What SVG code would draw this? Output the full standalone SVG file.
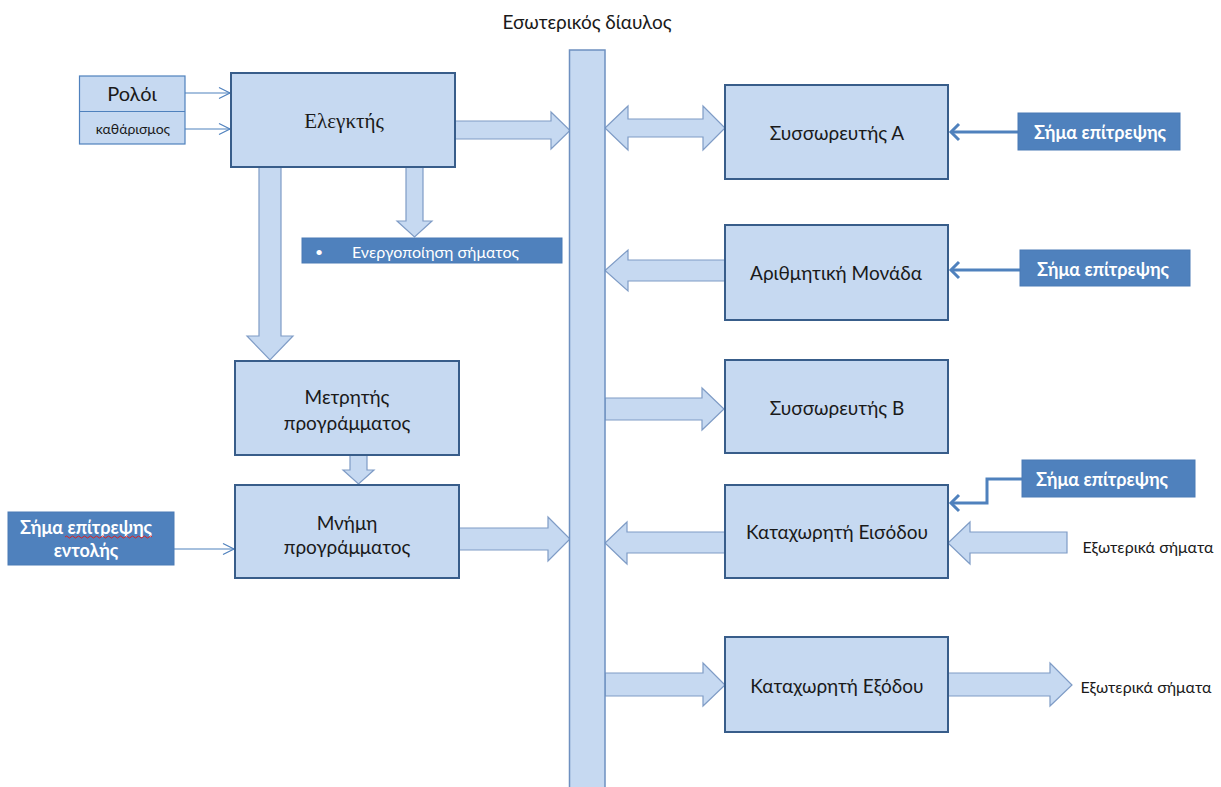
<svg xmlns="http://www.w3.org/2000/svg" width="1221" height="787" viewBox="0 0 1221 787">
  <style>
    .box { fill: #C6D9F1; stroke: #385D8A; stroke-width: 2; }
    .thinbox { fill: #C6D9F1; stroke: #4F81BD; stroke-width: 1.2; }
    .dark { fill: #4F81BD; stroke: #4A7AB5; stroke-width: 1; }
    .fat { fill: #C6D9F1; stroke: #7F9CC6; stroke-width: 1.2; stroke-linejoin: miter; }
    .thin { fill: none; stroke: #4F81BD; stroke-width: 1.2; }
    .sig { fill: none; stroke: #4F81BD; stroke-width: 3; stroke-linejoin: miter; }
    .t { font-family: Lato, "Liberation Sans", sans-serif; fill: #1a1a1a; text-anchor: middle; dominant-baseline: central; }
    .w { font-family: Lato, "Liberation Sans", sans-serif; fill: #ffffff; font-weight: bold; font-size: 18px; text-anchor: middle; dominant-baseline: central; }
    .lbl { font-size: 19px; }
  </style>

  <!-- bus title -->
  <text class="t" x="587" y="21" font-size="19">Εσωτερικός δίαυλος</text>

  <!-- connectors -->
  <g id="connectors">
    <!-- controller -> bus -->
    <polygon class="fat" points="452,121 551,121 551,112 570,130.5 551,149 551,139 452,139"/>
    <!-- controller -> enable signal -->
    <polygon class="fat" points="406,165 423,165 423,221 432,221 414.5,237 397,221 406,221"/>
    <!-- controller -> program counter -->
    <polygon class="fat" points="259,165 281,165 281,336 293,336 270,360 247,336 259,336"/>
    <!-- program counter -> program memory -->
    <polygon class="fat" points="350,453 367,453 367,470 374,470 358.5,484 343,470 350,470"/>
    <!-- program memory -> bus -->
    <polygon class="fat" points="456,528 548,528 548,517 570,539 548,561 548,550 456,550"/>
    <!-- bus <-> accumulator A -->
    <polygon class="fat" points="605,128 628,106 628,119 703,119 703,106 725,128 703,150 703,137 628,137 628,150"/>
    <!-- arithmetic unit -> bus -->
    <polygon class="fat" points="728,260 628,260 628,250 605,270.5 628,291 628,281 728,281"/>
    <!-- bus -> accumulator B -->
    <polygon class="fat" points="605,398 702,398 702,388 724,409 702,430 702,420 605,420"/>
    <!-- input register -> bus -->
    <polygon class="fat" points="728,532 627,532 627,522 605,543 627,564 627,553 728,553"/>
    <!-- external signals -> input register -->
    <polygon class="fat" points="1067,532 970,532 970,522 948,543 970,564 970,553 1067,553"/>
    <!-- bus -> output register -->
    <polygon class="fat" points="605,673 703,673 703,663 725,685 703,706 703,696 605,696"/>
    <!-- output register -> external signals -->
    <polygon class="fat" points="946,673 1050,673 1050,663 1072,685 1050,706 1050,696 946,696"/>

    <!-- clock / reset inputs -->
    <line class="thin" x1="185" y1="93" x2="230" y2="93"/>
    <polyline class="thin" points="219,87.5 230,93 219,98.5"/>
    <line class="thin" x1="185" y1="129" x2="230" y2="129"/>
    <polyline class="thin" points="219,123.5 230,129 219,134.5"/>
    <!-- instruction enable -> program memory -->
    <line class="thin" x1="174" y1="549" x2="234" y2="549"/>
    <polyline class="thin" points="223,543.5 234,549 223,554.5"/>

    <!-- enable signals -->
    <line class="sig" x1="1018" y1="132" x2="951" y2="132"/>
    <polyline class="sig" points="959,124 951,132 959,140"/>
    <line class="sig" x1="1020" y1="270" x2="951" y2="270"/>
    <polyline class="sig" points="959,262 951,270 959,278"/>
    <polyline class="sig" points="1025,479 987,479 987,503 951,503"/>
    <polyline class="sig" points="959,495 951,503 959,511"/>
  </g>

  <!-- internal bus -->
  <g id="bus">
    <rect x="569.5" y="50" width="35.5" height="745" fill="#C6D9F1" stroke="#6E90C0" stroke-width="1.5"/>
  </g>

  <g id="clock">
    <rect class="thinbox" x="79.5" y="76" width="105.5" height="68"/>
    <line x1="79.5" y1="111.5" x2="185" y2="111.5" stroke="#4F81BD" stroke-width="1.2"/>
    <text class="t" x="132" y="93" font-size="20">Ρολόι</text>
    <text class="t" x="133" y="128" font-size="14">καθάρισμος</text>
  </g>

  <g id="controller">
    <rect class="box" x="231" y="73" width="224" height="94"/>
    <text class="t" x="344" y="121" font-size="21" style="font-family: 'Liberation Serif', serif;">Ελεγκτής</text>
  </g>

  <g id="enable-out">
    <rect class="dark" x="302" y="238" width="260" height="25"/>
    <text x="319" y="251" font-size="14" fill="#ffffff" text-anchor="middle" dominant-baseline="central" font-family="Lato, 'Liberation Sans', sans-serif">•</text>
    <text x="352" y="251" font-size="16" fill="#ffffff" dominant-baseline="central" font-family="Lato, 'Liberation Sans', sans-serif">Ενεργοποίηση σήματος</text>
  </g>

  <g id="program-counter">
    <rect class="box" x="235" y="361" width="224" height="94"/>
    <text class="t lbl" x="347" y="396">Μετρητής</text>
    <text class="t lbl" x="347" y="422">προγράμματος</text>
  </g>

  <g id="program-memory">
    <rect class="box" x="235" y="485" width="224" height="93"/>
    <text class="t lbl" x="347" y="522">Μνήμη</text>
    <text class="t lbl" x="347" y="546">προγράμματος</text>
  </g>

  <g id="instruction-enable">
    <rect class="dark" x="8" y="512" width="166" height="53"/>
    <text class="w" x="86" y="527">Σήμα επίτρεψης</text>
    <text class="w" x="86" y="550">εντολής</text>
    <path d="M 65,537 q 1.5,-2 3,0 t 3,0 t 3,0 t 3,0 t 3,0 t 3,0 t 3,0 t 3,0 t 3,0 t 3,0 t 3,0 t 3,0 t 3,0 t 3,0 t 3,0 t 3,0 t 3,0 t 3,0 t 3,0 t 3,0 t 3,0 t 3,0 t 3,0 t 3,0 t 3,0 t 3,0 t 3,0 t 3,0 t 3,0" fill="none" stroke="#E02020" stroke-width="1"/>
  </g>

  <g id="accumulator-a">
    <rect class="box" x="725" y="85" width="223" height="94"/>
    <text class="t lbl" x="837" y="132">Συσσωρευτής Α</text>
  </g>
  <g id="enable-a">
    <rect class="dark" x="1018" y="113" width="162" height="37"/>
    <text class="w" x="1100" y="132">Σήμα επίτρεψης</text>
  </g>

  <g id="arithmetic-unit">
    <rect class="box" x="725" y="225" width="223" height="95"/>
    <text class="t lbl" x="836" y="272">Αριθμητική Μονάδα</text>
  </g>
  <g id="enable-alu">
    <rect class="dark" x="1020" y="250" width="170" height="36"/>
    <text class="w" x="1103" y="269">Σήμα επίτρεψης</text>
  </g>

  <g id="accumulator-b">
    <rect class="box" x="725" y="360" width="223" height="93"/>
    <text class="t lbl" x="837" y="407">Συσσωρευτής Β</text>
  </g>

  <g id="input-register">
    <rect class="box" x="725" y="485" width="223" height="93"/>
    <text class="t lbl" x="837" y="531">Καταχωρητή Εισόδου</text>
  </g>
  <g id="enable-in">
    <rect class="dark" x="1022" y="460" width="173" height="37"/>
    <text class="w" x="1102" y="479">Σήμα επίτρεψης</text>
  </g>
  <text class="t" x="1148" y="546" font-size="16">Εξωτερικά σήματα</text>

  <g id="output-register">
    <rect class="box" x="725" y="637" width="223" height="95"/>
    <text class="t lbl" x="837" y="685">Καταχωρητή Εξόδου</text>
  </g>
  <text class="t" x="1146" y="686" font-size="16">Εξωτερικά σήματα</text>
</svg>
